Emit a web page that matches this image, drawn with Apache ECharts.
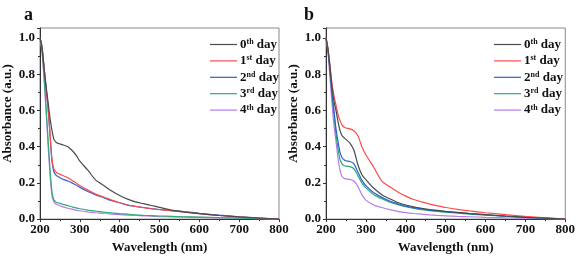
<!DOCTYPE html>
<html><head><meta charset="utf-8">
<script src="https://cdn.jsdelivr.net/npm/echarts@6/dist/echarts.min.js"></script>
<style>html,body{margin:0;padding:0;background:#fff}#c{width:578px;height:259px}</style>
</head><body><div id="c"></div>
<script>
const wavelengths = [200,205,210,215,220,225,230,235,240,245,250,260,270,280,290,300,320,340,360,380,400,420,440,460,480,500,530,560,600,650,700,750,800];
const seriesNames = ['0th day','1st day','2nd day','3rd day','4th day'];
const legendLabels = [['0','th'],['1','st'],['2','nd'],['3','rd'],['4','th']];
const xTicks = [200,300,400,500,600,700,800];
const yTicks = [0.0,0.2,0.4,0.6,0.8,1.0];

// Panel a
const a_day0 = [1.0,0.95,0.84,0.74,0.65,0.56,0.49,0.44,0.425,0.418,0.415,0.408,0.40,0.38,0.355,0.32,0.27,0.215,0.185,0.155,0.13,0.11,0.095,0.085,0.075,0.065,0.05,0.04,0.03,0.02,0.012,0.006,0.0];
const a_day1 = [1.0,0.95,0.84,0.73,0.62,0.48,0.33,0.275,0.26,0.252,0.248,0.238,0.228,0.215,0.2,0.185,0.16,0.138,0.122,0.105,0.09,0.078,0.07,0.063,0.057,0.052,0.046,0.04,0.03,0.02,0.012,0.006,0.0];
const a_day2 = [1.0,0.95,0.84,0.73,0.62,0.47,0.32,0.26,0.243,0.235,0.228,0.218,0.21,0.2,0.188,0.175,0.152,0.133,0.118,0.102,0.09,0.077,0.07,0.064,0.058,0.053,0.047,0.042,0.032,0.022,0.013,0.006,0.0];
const a_day3 = [1.0,0.93,0.8,0.63,0.45,0.28,0.15,0.105,0.095,0.09,0.087,0.08,0.074,0.068,0.062,0.057,0.05,0.044,0.039,0.034,0.03,0.027,0.024,0.021,0.019,0.017,0.015,0.013,0.011,0.008,0.006,0.003,0.0];
const a_day4 = [1.0,0.92,0.78,0.6,0.42,0.25,0.13,0.095,0.083,0.078,0.074,0.066,0.06,0.055,0.05,0.046,0.04,0.035,0.031,0.028,0.025,0.022,0.02,0.018,0.016,0.014,0.012,0.011,0.009,0.007,0.005,0.003,0.0];

// Panel b
const b_day0 = [1.0,0.94,0.84,0.73,0.65,0.6,0.54,0.49,0.462,0.45,0.44,0.42,0.38,0.3,0.245,0.218,0.17,0.135,0.112,0.092,0.078,0.068,0.06,0.053,0.048,0.043,0.037,0.031,0.025,0.017,0.01,0.005,0.0];
const b_day1 = [1.0,0.94,0.85,0.75,0.68,0.63,0.58,0.545,0.52,0.508,0.503,0.498,0.488,0.46,0.4,0.355,0.285,0.21,0.178,0.15,0.127,0.108,0.095,0.083,0.073,0.064,0.054,0.045,0.035,0.025,0.015,0.007,0.0];
const b_day2 = [1.0,0.93,0.82,0.7,0.6,0.5,0.43,0.37,0.34,0.328,0.322,0.318,0.305,0.26,0.215,0.185,0.145,0.12,0.1,0.085,0.072,0.063,0.056,0.05,0.045,0.041,0.035,0.03,0.024,0.016,0.01,0.005,0.0];
const b_day3 = [1.0,0.93,0.82,0.69,0.58,0.47,0.39,0.33,0.305,0.296,0.292,0.29,0.278,0.24,0.2,0.172,0.135,0.112,0.094,0.08,0.068,0.059,0.052,0.047,0.042,0.038,0.033,0.028,0.022,0.015,0.009,0.004,0.0];
const b_day4 = [1.0,0.92,0.78,0.64,0.52,0.43,0.34,0.27,0.235,0.226,0.222,0.219,0.21,0.18,0.135,0.105,0.078,0.064,0.052,0.043,0.036,0.031,0.027,0.023,0.02,0.018,0.015,0.013,0.01,0.007,0.005,0.002,0.0];

const colors = ['#4a4a4a','#ff4a4a','#2a62d4','#30a878','#b57de6'];
const FONT = '"Liberation Serif","Times New Roman",serif';

const panelA = [a_day0,a_day1,a_day2,a_day3,a_day4];
const panelB = [b_day0,b_day1,b_day2,b_day3,b_day4];

function pairs(vals){ return wavelengths.map((w,i)=>[w,vals[i]]); }

function xAxis(gi){
  return {type:'value', gridIndex:gi, min:200, max:800, interval:100,
    name:'Wavelength (nm)', nameLocation:'middle', nameGap:17,
    nameTextStyle:{fontFamily:FONT,fontWeight:'bold',fontSize:13,color:'#111'},
    axisLine:{show:true,lineStyle:{color:'#333',width:1}},
    axisTick:{show:true,length:3,lineStyle:{color:'#333'}},
    minorTick:{show:true,splitNumber:2,length:2,lineStyle:{color:'#333'}},
    axisLabel:{fontFamily:FONT,fontWeight:'bold',fontSize:13,color:'#111',margin:4},
    splitLine:{show:false}};
}
function yAxis(gi){
  return {type:'value', gridIndex:gi, min:0, max:1.055, interval:0.2,
    name:'Absorbance (a.u.)', nameLocation:'middle', nameGap:26, nameRotate:90,
    nameTextStyle:{fontFamily:FONT,fontWeight:'bold',fontSize:13,color:'#111',padding:[0,0,0,20]},
    axisLine:{show:true,lineStyle:{color:'#333',width:1}},
    axisTick:{show:true,length:3,lineStyle:{color:'#333'}},
    minorTick:{show:true,splitNumber:2,length:2,lineStyle:{color:'#333'}},
    axisLabel:{fontFamily:FONT,fontWeight:'bold',fontSize:13,color:'#111',margin:5,showMaxLabel:false,
      formatter:v=> (Math.abs(v-1.055)<1e-6)?'':v.toFixed(1)},
    splitLine:{show:false}};
}
const legendText = {};
seriesNames.forEach((n,i)=>{legendText[n]=legendLabels[i];});
function legend(left){
  return {orient:'vertical', left:left, top:33, itemWidth:27, itemHeight:14, itemGap:3.4,
    icon:'path://M0,0 H27 V1.2 H0 Z',
    data:seriesNames,
    formatter:n=>{const p=legendText[n]; return p[0]+'{s|'+p[1]+'}'+' day';},
    textStyle:{fontFamily:FONT,fontWeight:'bold',fontSize:13,color:'#111',padding:[0,0,0,-2],
      rich:{s:{fontFamily:FONT,fontWeight:'bold',fontSize:8,verticalAlign:'top',padding:[0,0,5,0],color:'#111'}}}};
}

const series = [];
[panelA,panelB].forEach((panel,gi)=>{
  panel.forEach((vals,i)=>{
    series.push({type:'line', name:seriesNames[i], xAxisIndex:gi, yAxisIndex:gi,
      data:pairs(vals), symbol:'none', smooth:0.25, color:colors[i],
      lineStyle:{width:1.2,color:colors[i]}, z: 10-i});
  });
});

const chart = echarts.init(document.getElementById('c'), null, {renderer:'canvas'});
chart.setOption({
  backgroundColor:'#fff',
  animation:false,
  grid:[
    {left:36, top:28, width:243, height:196, show:true, borderColor:'#888', borderWidth:1, containLabel:false},
    {left:326, top:28, width:240, height:195, show:true, borderColor:'#888', borderWidth:1, containLabel:false}
  ],
  xAxis:[xAxis(0), xAxis(1)],
  yAxis:[yAxis(0), yAxis(1)],
  legend:[legend(205), legend(489)],
  title:[
    {text:'a', left:19, top:1, textStyle:{fontFamily:FONT,fontWeight:'bold',fontSize:18,color:'#111'}},
    {text:'b', left:299, top:1, textStyle:{fontFamily:FONT,fontWeight:'bold',fontSize:18,color:'#111'}}
  ],
  series:series
});
</script>
</body></html>
